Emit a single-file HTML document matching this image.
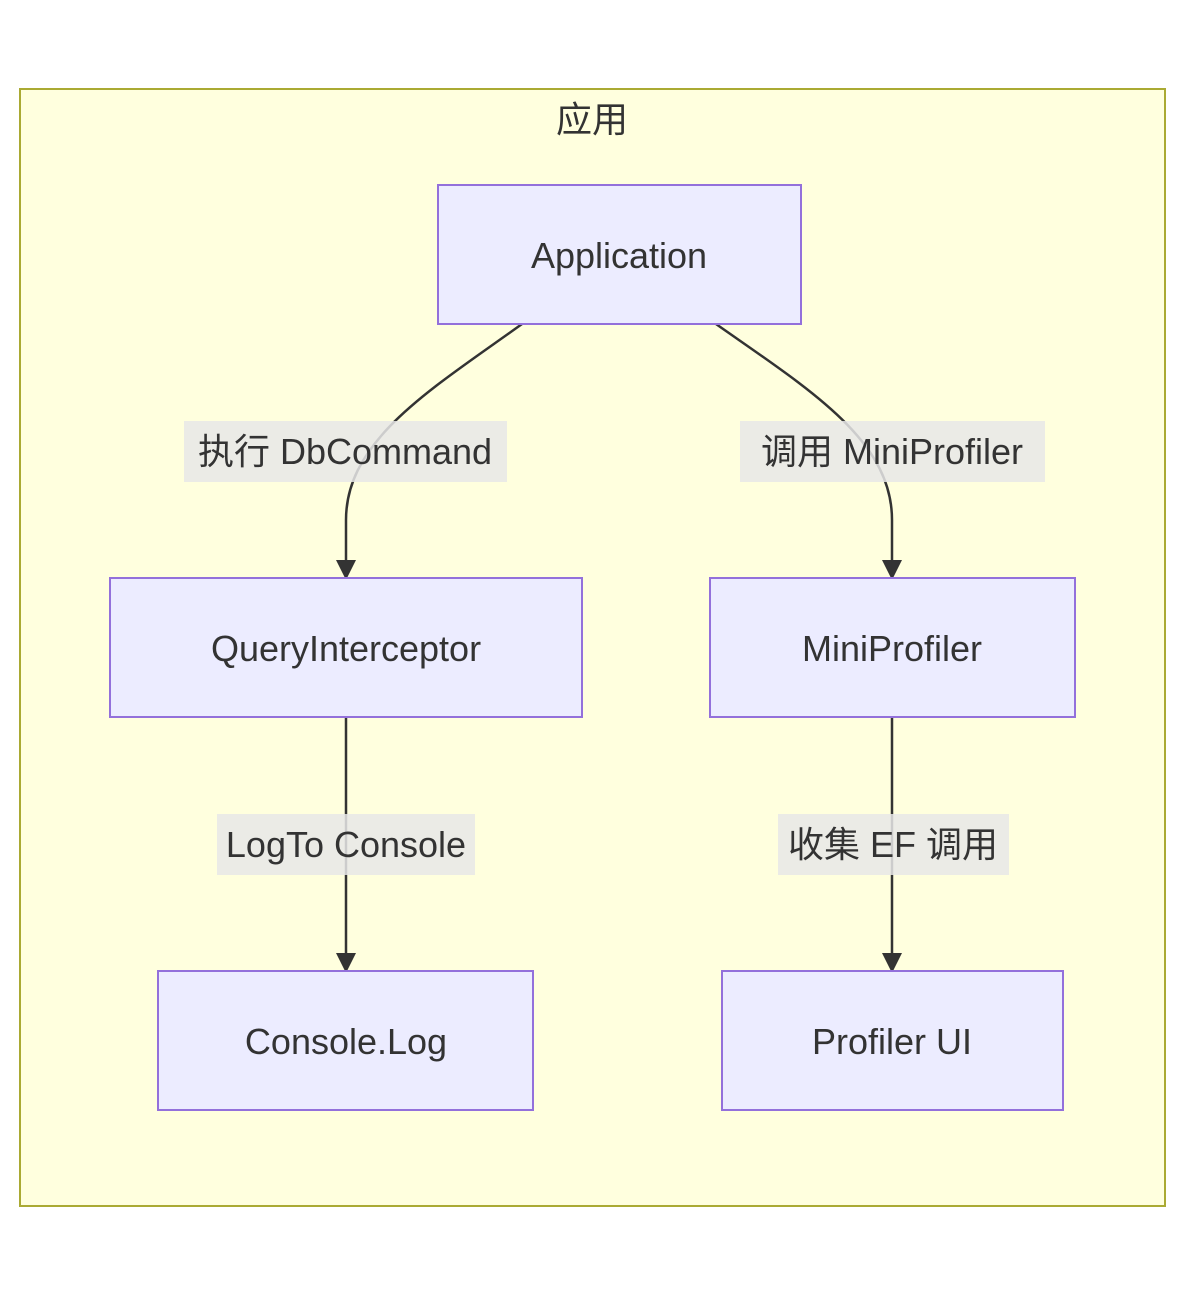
<!DOCTYPE html>
<html><head><meta charset="utf-8"><style>
html,body{margin:0;padding:0;background:#fff;}
svg text{font-family:"Liberation Sans","Noto Sans CJK SC",sans-serif;fill:#333;}
</style></head><body>
<svg width="1186" height="1296" viewBox="0 0 1186 1296" xmlns="http://www.w3.org/2000/svg">
<defs><marker id="a" markerWidth="10" markerHeight="10" refX="9" refY="5" orient="auto" markerUnits="userSpaceOnUse" viewBox="0 0 10 10">
</marker></defs>
<rect x="20" y="89" width="1145" height="1117" fill="#ffffde" stroke="#aaaa33" stroke-width="2"/>
<text x="592" y="132" font-size="36" text-anchor="middle">应用</text>
<g fill="none" stroke="#333" stroke-width="2.5">
<path d="M522,324 C430,390 346,440 346,520 L346,562"/>
<path d="M716,324 C810,390 892,440 892,520 L892,562"/>
<path d="M346,717 L346,955"/>
<path d="M892,717 L892,955"/>
</g>
<g fill="#333">
<polygon points="336,560 356,560 346,580"/>
<polygon points="882,560 902,560 892,580"/>
<polygon points="336,953 356,953 346,973"/>
<polygon points="882,953 902,953 892,973"/>
</g>
<g fill="rgba(232,232,232,0.85)">
<rect x="184" y="421" width="323" height="61"/>
<rect x="740" y="421" width="305" height="61"/>
<rect x="217" y="814" width="258" height="61"/>
<rect x="778" y="814" width="231" height="61"/>
</g>
<g font-size="36" text-anchor="middle">
<text x="345" y="464">执行 DbCommand</text>
<text x="892" y="464">调用 MiniProfiler</text>
<text x="346" y="857">LogTo Console</text>
<text x="893" y="857">收集 EF 调用</text>
</g>
<g fill="#ececff" stroke="#9370db" stroke-width="2">
<rect x="438" y="185" width="363" height="139"/>
<rect x="110" y="578" width="472" height="139"/>
<rect x="710" y="578" width="365" height="139"/>
<rect x="158" y="971" width="375" height="139"/>
<rect x="722" y="971" width="341" height="139"/>
</g>
<g font-size="36" text-anchor="middle">
<text x="619" y="268">Application</text>
<text x="346" y="661">QueryInterceptor</text>
<text x="892" y="661">MiniProfiler</text>
<text x="346" y="1054">Console.Log</text>
<text x="892" y="1054">Profiler UI</text>
</g>
</svg>
</body></html>
